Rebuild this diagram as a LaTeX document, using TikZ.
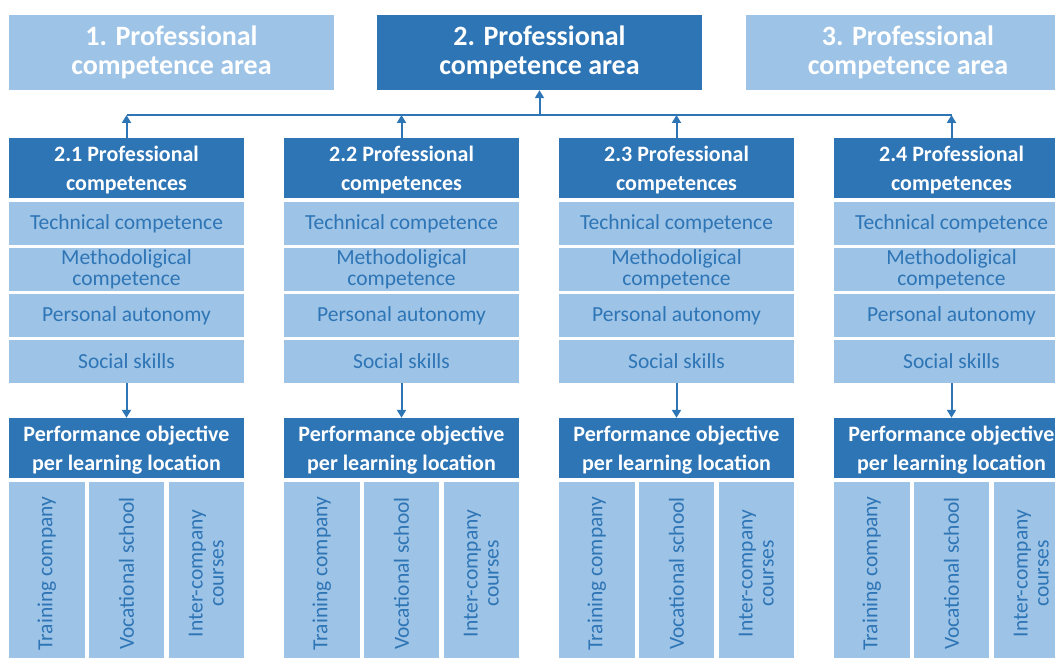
\documentclass[tikz,border=0pt]{standalone}
\usepackage{fontspec}
\setmainfont{Carlito}
\usetikzlibrary{arrows.meta}

\definecolor{darkblue}{HTML}{2E75B6}
\definecolor{lightblue}{HTML}{9DC3E6}

\begin{document}
\begin{tikzpicture}[
        x=1pt,
        y=-1pt,
        area/.style={fill=lightblue, text=white, align=center, inner sep=0pt,
            minimum width=325pt, minimum height=75pt,
            font=\bfseries\fontsize{28}{29}\selectfont},
        activearea/.style={area, fill=darkblue},
        header/.style={fill=darkblue, text=white, align=center, inner sep=0pt,
            minimum width=235pt, minimum height=60pt, text depth=0pt,
            font=\bfseries\fontsize{22}{29}\selectfont},
        item/.style={fill=lightblue, text=darkblue, align=center, inner sep=0pt,
            minimum width=235pt, minimum height=43pt,
            font=\fontsize{21.5}{20.5}\selectfont},
        place/.style={fill=lightblue, text=darkblue, align=center, inner sep=0pt,
            rotate=90, minimum width=183pt, minimum height=75.5pt,
            font=\fontsize{21.5}{21}\selectfont},
        link/.style={draw=darkblue, line width=2pt, -{Triangle[width=9pt,length=8pt]}}
    ]

    \useasboundingbox (0,0) rectangle (1055,658);

    % competence areas
    \node[area]       (area1) at (171.5, 52.5) {1. Professional\\competence area};
    \node[activearea] (area2) at (539.5, 52.5) {2. Professional\\competence area};
    \node[area]       (area3) at (908, 52.5)   {3. Professional\\competence area};

    \coordinate (bus) at (539.5, 115);

    % one column per professional competence
    \foreach \i [evaluate=\i as \cx using 126.5+275*(\i-1)] in {1,2,3,4} {
        \node[header] (comp\i) at (\cx, 168)   {2.\i\ Professional\\competences};
        \node[item]   (tech\i) at (\cx, 223.5) {Technical competence};
        \node[item]   (meth\i) at (\cx, 269.5) {Methodoligical\\competence};
        \node[item]   (pers\i) at (\cx, 315.5) {Personal autonomy};
        \node[item]   (soc\i)  at (\cx, 361.5) {Social skills};

        \node[header] (perf\i) at (\cx, 448) {Performance objective\\per learning location};

        \node[place] (train\i) at (\cx-79.75, 573.5) {Training company};
        \node[place] (voc\i)   at (\cx, 573.5)       {Vocational school};
        \node[place] (inter\i) at (\cx+79.75, 573.5) {Inter-company\\courses};

        \draw[link] (comp\i.north) -- (comp\i.north |- bus);
        \draw[link] (soc\i.south) -- (perf\i.north);
    }

    % bus line up to area 2
    \draw[darkblue, line width=2pt] (comp1.north |- bus) -- (comp4.north |- bus);
    \draw[link] (bus) -- (area2.south);

\end{tikzpicture}
\end{document}
